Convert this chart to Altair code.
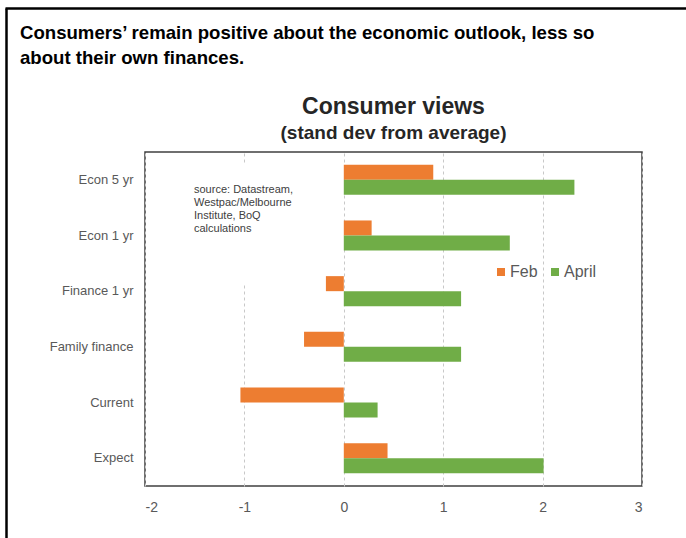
import altair as alt
import pandas as pd

categories = ["Econ 5 yr", "Econ 1 yr", "Finance 1 yr", "Family finance", "Current", "Expect"]
feb = [0.90, 0.28, -0.18, -0.40, -1.04, 0.44]
april = [2.32, 1.67, 1.18, 1.18, 0.34, 2.01]
series_names = ["Feb", "April"]
series_colors = ["#ED7D31", "#70AD47"]
x_ticks = [-2, -1, 0, 1, 2, 3]

header_lines = ["Consumers\u2019 remain positive about the economic outlook, less so",
                "about their own finances."]
chart_title = "Consumer views"
chart_subtitle = "(stand dev from average)"
source_lines = ["source:  Datastream,", "Westpac/Melbourne", "Institute,  BoQ", "calculations"]

rows = []
for c, f, a in zip(categories, feb, april):
    rows.append({"category": c, "series": "Feb", "value": f})
    rows.append({"category": c, "series": "April", "value": a})
df = pd.DataFrame(rows)

W, H = 497, 334
FONT = "Liberation Sans"
one = pd.DataFrame({"k": [0]})

bars = alt.Chart(df).mark_bar().encode(
    y=alt.Y("category:N", sort=categories,
            scale=alt.Scale(paddingInner=0.46, paddingOuter=0.23),
            axis=alt.Axis(title=None, ticks=False, domain=False, labelFontSize=13,
                          labelColor="#595959", labelPadding=12, labelFont=FONT)),
    x=alt.X("value:Q", scale=alt.Scale(domain=[-2, 3], nice=False, zero=False),
            axis=alt.Axis(values=x_ticks, title=None, ticks=False, domain=False, grid=True,
                          gridDash=[3, 3], gridColor="#c8c8c8", labelFontSize=14,
                          labelColor="#595959", labelPadding=14, labelExpr="'' + datum.value",
                          labelFont=FONT)),
    yOffset=alt.YOffset("series:N", sort=series_names,
                        scale=alt.Scale(paddingInner=0, paddingOuter=0)),
    color=alt.Color("series:N", sort=series_names,
                    scale=alt.Scale(domain=series_names, range=series_colors),
                    legend=alt.Legend(orient="none", legendX=348, legendY=112,
                                      direction="horizontal", title=None, symbolType="square",
                                      symbolSize=64, symbolStrokeWidth=0, labelFontSize=16,
                                      labelColor="#595959", columnPadding=9, labelOffset=1,
                                      labelFont=FONT)),
)

cover = alt.Chart(one).mark_rect(color="white").encode(
    x=alt.value(42), x2=alt.value(178), y=alt.value(12), y2=alt.value(131))

source = alt.Chart(one).mark_text(align="left", baseline="top", fontSize=11, lineHeight=13,
                                  color="#404040", font=FONT).encode(
    x=alt.value(49), y=alt.value(32), text=alt.value(source_lines))

header = alt.Chart(one).mark_text(align="left", baseline="middle", fontSize=18.6, fontWeight="bold",
                                  lineHeight=25, color="black", font=FONT).encode(
    x=alt.value(-125), y=alt.value(-119), text=alt.value(header_lines))

title = alt.Chart(one).mark_text(align="center", baseline="middle", fontSize=23, fontWeight="bold",
                                 color="#262626", font=FONT).encode(
    x=alt.value(W / 2), y=alt.value(-45), text=alt.value(chart_title))

subtitle = alt.Chart(one).mark_text(align="center", baseline="middle", fontSize=19, fontWeight="bold",
                                    color="#262626", font=FONT).encode(
    x=alt.value(W / 2), y=alt.value(-19), text=alt.value(chart_subtitle))

frame_left = alt.Chart(one).mark_rule(color="black", strokeWidth=2.5).encode(
    x=alt.value(-138.5), y=alt.value(-143.5), y2=alt.value(H + 52))
frame_top = alt.Chart(one).mark_rule(color="black", strokeWidth=2.5).encode(
    x=alt.value(-139.5), x2=alt.value(W + 44), y=alt.value(-143.5))

chart = alt.layer(cover, bars, source, header, title, subtitle, frame_left, frame_top).properties(
    width=W, height=H,
    autosize=alt.AutoSizeParams(type="none"),
    padding={"left": 145, "top": 152, "right": 44, "bottom": 52},
).configure(font=FONT).configure_view(stroke="#404040", strokeWidth=1.5)

chart.save("out.html", embed_options={"renderer": "svg", "actions": False})
